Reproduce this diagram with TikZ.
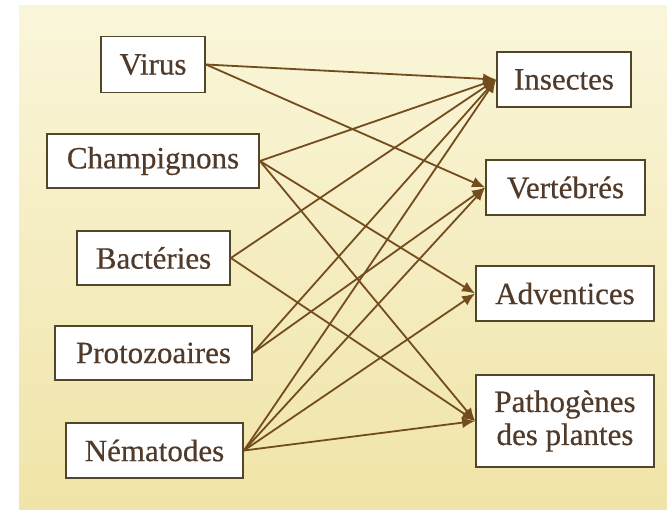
\documentclass[tikz,border=0pt]{standalone}
\usepackage{fontspec}
\setmainfont{Liberation Serif}
\newfontfamily\lblfont[FakeBold=0.5]{Liberation Serif}
\usetikzlibrary{arrows.meta,shadings}
\definecolor{bgA}{RGB}{250,246,218}
\definecolor{bgB}{RGB}{240,228,168}
\definecolor{linebrown}{RGB}{115,76,30}
\definecolor{txtbrown}{RGB}{80,58,42}
\definecolor{boxedge}{RGB}{82,70,42}
\tikzset{
  box/.style={draw=boxedge, line width=1.8pt, fill=white, text=txtbrown,
    inner sep=0pt, font=\lblfont\fontsize{31}{33}\selectfont, align=center},
  conn/.style={draw=linebrown, line width=1.8pt, -{Latex[length=13pt,width=11pt]}}
}
\begin{document}
\begin{tikzpicture}[x=1pt,y=-1pt]
\useasboundingbox (0,0) rectangle (667,509);
\fill[white] (0,0) rectangle (667,509);
\shade[top color=bgA, bottom color=bgB] (19,5) rectangle (667,509);
% left boxes
\node[box, minimum width=104pt, minimum height=56pt] (virus) at (153,64.5) {Virus};
\node[box, minimum width=212pt, minimum height=54pt] (champ) at (153,161) {Champignons};
\node[box, minimum width=153pt, minimum height=54pt] (bact) at (153.5,258) {Bactéries};
\node[box, minimum width=197pt, minimum height=54pt] (proto) at (153.5,353) {Protozoaires};
\node[box, minimum width=177pt, minimum height=55pt] (nema) at (154.5,450.5) {Nématodes};
% right boxes
\node[box, minimum width=134pt, minimum height=55pt] (ins) at (564,79.5) {Insectes};
\node[box, minimum width=159pt, minimum height=55pt] (vert) at (565.5,187.5) {Vertébrés};
\node[box, minimum width=178pt, minimum height=55pt] (adv) at (565,293.5) {Adventices};
\node[box, minimum width=178pt, minimum height=92pt, font=\lblfont\fontsize{31}{33}\selectfont] (path) at (565,421) {Pathogènes\\des plantes};
% connectors
\draw[conn] (virus.east) -- (ins.west);
\draw[conn] (virus.east) -- (vert.west);
\draw[conn] (champ.east) -- (ins.west);
\draw[conn] (champ.east) -- (adv.west);
\draw[conn] (champ.east) -- (path.west);
\draw[conn] (bact.east) -- (ins.west);
\draw[conn] (bact.east) -- (path.west);
\draw[conn] (proto.east) -- (ins.west);
\draw[conn] (proto.east) -- (vert.west);
\draw[conn] (nema.east) -- (ins.west);
\draw[conn] (nema.east) -- (vert.west);
\draw[conn] (nema.east) -- (adv.west);
\draw[conn] (nema.east) -- (path.west);
\end{tikzpicture}
\end{document}
